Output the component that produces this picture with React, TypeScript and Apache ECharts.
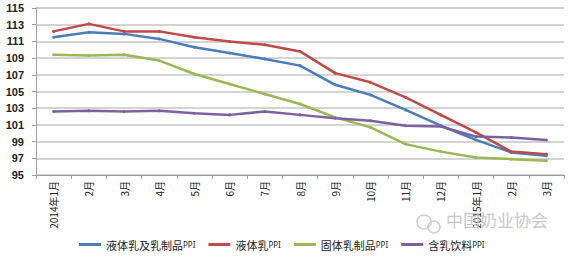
import React, { useEffect, useRef } from "react";
import * as echarts from "echarts";

const categories = ["2014年1月", "2月", "3月", "4月", "5月", "6月", "7月", "8月", "9月", "10月", "11月", "12月", "2015年1月", "2月", "3月"];
const liquidAndDairy = [111.5, 112.1, 111.9, 111.3, 110.3, 109.6, 108.9, 108.1, 105.8, 104.6, 102.8, 100.9, 99.2, 97.7, 97.3];
const liquidMilk = [112.2, 113.1, 112.2, 112.2, 111.5, 111.0, 110.6, 109.8, 107.2, 106.1, 104.3, 102.2, 100.1, 97.8, 97.5];
const solidDairy = [109.4, 109.3, 109.4, 108.7, 107.1, 105.9, 104.7, 103.5, 101.9, 100.7, 98.7, 97.8, 97.1, 96.9, 96.7];
const milkDrinks = [102.6, 102.7, 102.6, 102.7, 102.4, 102.2, 102.6, 102.2, 101.8, 101.5, 100.9, 100.8, 99.6, 99.5, 99.2];
const seriesNames = ["液体乳及乳制品PPI", "液体乳PPI", "固体乳制品PPI", "含乳饮料PPI"];
const colors = ["#4a7ebb", "#be4b48", "#98b954", "#7d60a0"];

export default function App() {
  const ref = useRef<HTMLDivElement>(null);
  useEffect(() => {
    const chart = echarts.init(ref.current!, null, { renderer: "svg" });
    const data = [liquidAndDairy, liquidMilk, solidDairy, milkDrinks];
    chart.setOption({
      animation: false,
      backgroundColor: "#ffffff",
      grid: { left: 36, right: 12, top: 8, bottom: 82 },
      legend: {
        left: 74,
        top: 234,
        itemGap: 13,
        itemWidth: 22,
        itemHeight: 3,
        icon: "rect",
        data: seriesNames,
        formatter: (name: string) => `{a|${name.replace("PPI", "")}}{b|PPI}`,
        textStyle: {
          color: "#222",
          rich: {
            a: { fontSize: 11, fontFamily: "Noto Sans CJK SC", color: "#222" },
            b: { fontSize: 8, fontFamily: "Noto Sans", color: "#222" },
          },
        },
      },
      xAxis: {
        type: "category",
        data: categories,
        boundaryGap: true,
        axisLine: { lineStyle: { color: "#a0a0a0", width: 1 } },
        axisTick: { show: true, alignWithLabel: false, length: 4, lineStyle: { color: "#a0a0a0" } },
        axisLabel: {
          rotate: 90,
          interval: 0,
          fontSize: 10,
          margin: 6,
          color: "#222",
          fontFamily: "Noto Sans CJK SC",
        },
      },
      yAxis: {
        type: "value",
        min: 95,
        max: 115,
        interval: 2,
        axisLine: { show: true, lineStyle: { color: "#a0a0a0", width: 1 } },
        axisTick: { show: true, length: 4, lineStyle: { color: "#a0a0a0" } },
        axisLabel: { fontSize: 11, color: "#222", margin: 12, fontFamily: "Liberation Sans", fontWeight: "bold" },
        splitLine: { lineStyle: { color: "#c4c4c4", width: 1.5 } },
      },
      graphic: [
        {
          type: "text",
          left: 446,
          top: 211,
          style: { text: "中国奶业协会", fontSize: 17, fill: "#c9c9c9", fontFamily: "Noto Sans CJK SC" },
          z: 100,
        },
        { type: "circle", shape: { cx: 424, cy: 222, r: 7 }, style: { fill: "none", stroke: "#cfcfcf", lineWidth: 1.5 }, z: 100 },
        { type: "circle", shape: { cx: 434, cy: 227, r: 6 }, style: { fill: "none", stroke: "#cfcfcf", lineWidth: 1.5 }, z: 100 },
      ],
      series: seriesNames.map((name, i) => ({
        name,
        type: "line",
        data: data[i],
        symbol: "circle",
        symbolSize: 3,
        showSymbol: true,
        itemStyle: { color: colors[i] },
        lineStyle: { color: colors[i], width: 2.5 },
      })),
    });
    return () => chart.dispose();
  }, []);
  return <div ref={ref} style={{ position: "fixed", left: 0, top: 0, width: 576, height: 257 }} />;
}
